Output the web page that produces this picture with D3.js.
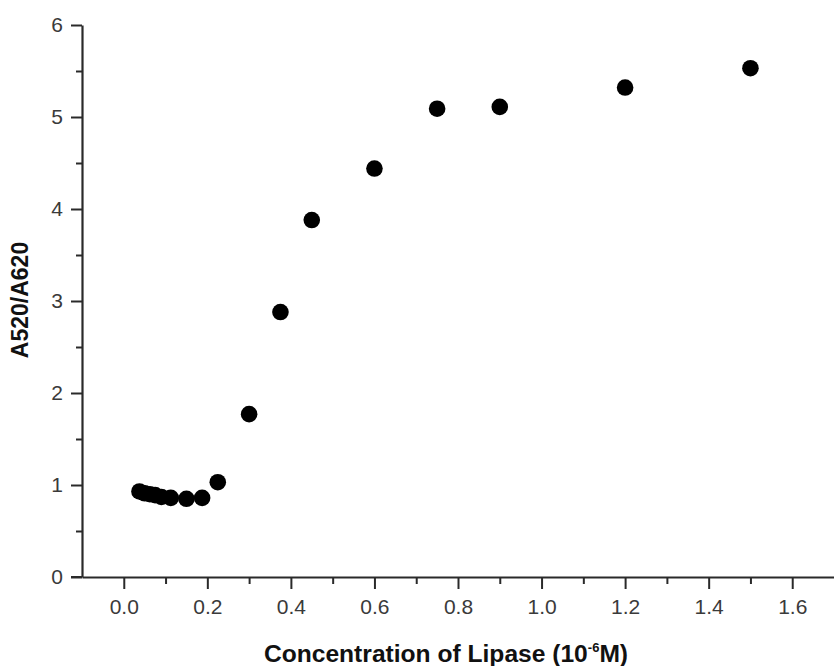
<!DOCTYPE html>
<html>
<head>
<meta charset="utf-8">
<script src="https://cdn.jsdelivr.net/npm/d3@7"></script>
<style>
  html, body { margin: 0; padding: 0; background: #fff; }
  svg { display: block; }
</style>
</head>
<body>
<svg id="chart" width="834" height="666"></svg>
<script>
// Data (concentration of lipase, 10^-6 M ; A520/A620 ratio)
const concentration = [0.0375, 0.05, 0.0625, 0.075, 0.09, 0.1125, 0.15, 0.1875, 0.225, 0.3, 0.375, 0.45, 0.6, 0.75, 0.9, 1.2, 1.5];
const ratio         = [0.93,   0.91, 0.90,   0.89,  0.87, 0.86,   0.85, 0.86,   1.03,  1.77, 2.88, 3.88, 4.44, 5.09, 5.11, 5.32, 5.53];
const xTickValues = [0.0, 0.2, 0.4, 0.6, 0.8, 1.0, 1.2, 1.4, 1.6];
const xMinorTicks = [0.1, 0.3, 0.5, 0.7, 0.9, 1.1, 1.3, 1.5];
const yTickValues = [0, 1, 2, 3, 4, 5, 6];
const yMinorTicks = [0.5, 1.5, 2.5, 3.5, 4.5, 5.5];
const xTitle = "Concentration of Lipase (10";
const xTitleSup = "-6";
const xTitleEnd = "M)";
const yTitle = "A520/A620";

(function () {
const svg = d3.select("#chart");
const pLeft = 82, pRight = 834, pTop = 25, pBottom = 577;

const x = d3.scaleLinear().domain([-0.1, 1.7]).range([pLeft, pRight]);
const y = d3.scaleLinear().domain([0, 6]).range([pBottom, pTop]);

const axisColor = "#2a2a2a";
const labelFont = "'Liberation Sans', Arial, sans-serif";

// X axis
const gx = svg.append("g").attr("transform", `translate(0,${pBottom})`);
gx.call(d3.axisBottom(x).tickValues(xTickValues).tickSize(12).tickPadding(10).tickFormat(d3.format(".1f")).tickSizeOuter(0));
gx.append("g").call(d3.axisBottom(x).tickValues(xMinorTicks).tickSize(7).tickFormat("").tickSizeOuter(0))
  .select(".domain").remove();

// Y axis
const gy = svg.append("g").attr("transform", `translate(${pLeft},0)`);
gy.call(d3.axisLeft(y).tickValues(yTickValues).tickSize(11).tickPadding(8).tickFormat(d3.format("d")).tickSizeOuter(0));
gy.append("g").call(d3.axisLeft(y).tickValues(yMinorTicks).tickSize(6).tickFormat("").tickSizeOuter(0))
  .select(".domain").remove();

svg.selectAll(".domain").attr("stroke", axisColor).attr("stroke-width", 2.2);
svg.selectAll(".tick line").attr("stroke", axisColor).attr("stroke-width", 2);
svg.selectAll(".tick text")
  .attr("fill", "#3a3a3a")
  .style("font-family", labelFont)
  .style("font-size", "21px");

// extend x axis line to the left to meet the 0 tick
svg.append("line")
  .attr("x1", pLeft - 11).attr("x2", pLeft)
  .attr("y1", pBottom).attr("y2", pBottom)
  .attr("stroke", axisColor).attr("stroke-width", 2);

// Points
svg.append("g").selectAll("circle")
  .data(concentration.map((c, i) => [c, ratio[i]]))
  .join("circle")
  .attr("cx", d => x(d[0]))
  .attr("cy", d => y(d[1]))
  .attr("r", 8.3)
  .attr("fill", "#000");

// X title
const xt = svg.append("text")
  .attr("x", 446).attr("y", 662)
  .attr("text-anchor", "middle")
  .style("font-family", labelFont)
  .style("font-weight", "bold")
  .style("font-size", "24.6px")
  .attr("fill", "#111");
xt.append("tspan").text(xTitle);
xt.append("tspan").text(xTitleSup).attr("dy", -10).style("font-size", "13px");
xt.append("tspan").text(xTitleEnd).attr("dy", 10);

// Y title
svg.append("text")
  .attr("transform", `translate(28,300) rotate(-90)`)
  .attr("text-anchor", "middle")
  .style("font-family", labelFont)
  .style("font-weight", "bold")
  .style("font-size", "23px")
  .attr("fill", "#111")
  .text(yTitle);
})();
</script>
</body>
</html>
